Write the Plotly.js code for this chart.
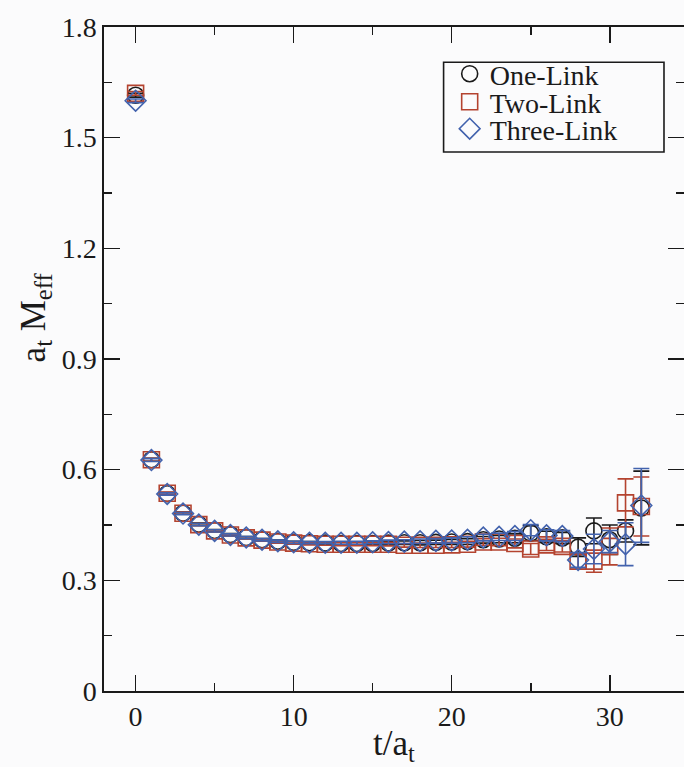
<!DOCTYPE html>
<html>
<head>
<meta charset="utf-8">
<script src="https://cdn.plot.ly/plotly-3.0.1.min.js"></script>
<style>html,body{margin:0;padding:0;background:#fbfbfc;}#chart{width:684px;height:767px;}</style>
</head>
<body>
<div id="chart"></div>
<script>
const t = [0,1,2,3,4,5,6,7,8,9,10,11,12,13,14,15,16,17,18,19,20,21,22,23,24,25,26,27,28,29,30,31,32];

const oneLink = [1.615,0.627,0.535,0.482,0.452,0.435,0.424,0.416,0.410,0.406,0.403,0.402,0.401,0.400,0.400,0.400,0.401,0.402,0.402,0.403,0.404,0.405,0.410,0.412,0.414,0.428,0.418,0.415,0.390,0.434,0.410,0.434,0.496];
const oneLinkErr = [0.005,0.004,0.003,0.003,0.003,0.003,0.003,0.003,0.003,0.003,0.003,0.003,0.003,0.004,0.004,0.004,0.005,0.005,0.006,0.006,0.007,0.008,0.009,0.010,0.012,0.020,0.015,0.015,0.025,0.035,0.040,0.030,0.100];

const twoLink = [1.620,0.627,0.536,0.482,0.451,0.434,0.423,0.415,0.409,0.404,0.401,0.399,0.398,0.398,0.398,0.398,0.398,0.395,0.395,0.395,0.396,0.398,0.404,0.404,0.400,0.385,0.396,0.392,0.352,0.352,0.392,0.510,0.500];
const twoLinkErr = [0.005,0.004,0.003,0.003,0.003,0.003,0.003,0.003,0.003,0.003,0.003,0.003,0.003,0.004,0.004,0.004,0.005,0.005,0.006,0.006,0.007,0.008,0.009,0.010,0.012,0.015,0.015,0.015,0.018,0.030,0.050,0.065,0.080];

const threeLink = [1.600,0.626,0.534,0.481,0.451,0.434,0.423,0.416,0.410,0.406,0.403,0.402,0.402,0.402,0.402,0.403,0.404,0.405,0.406,0.407,0.408,0.410,0.416,0.418,0.420,0.436,0.422,0.420,0.355,0.385,0.405,0.398,0.503];
const threeLinkErr = [0.005,0.004,0.003,0.003,0.003,0.003,0.003,0.003,0.003,0.003,0.003,0.003,0.003,0.004,0.004,0.004,0.005,0.005,0.006,0.006,0.007,0.008,0.009,0.010,0.012,0.015,0.015,0.015,0.020,0.040,0.030,0.058,0.100];

const names = ["One-Link","Two-Link","Three-Link"];
const colors = ["#1a1a1a","#b4432f","#4262ad"];
const symbols = ["circle-open","square-open","diamond-open"];
const legendIds = ["legend","legend2","legend3"];

const series = [[oneLink, oneLinkErr],[twoLink, twoLinkErr],[threeLink, threeLinkErr]];
const traces = series.map((s,i)=>({
  x: t, y: s[0], type: 'scatter', mode: 'markers', name: names[i], legend: legendIds[i],
  marker: {symbol: symbols[i], size: 16, color: colors[i], line: {width: 1.6, color: colors[i]}},
  error_y: {type: 'data', array: s[1], visible: true, color: colors[i], thickness: 1.6, width: 8}
}));

const font = {family: '"Liberation Serif", "Times New Roman", serif', color: '#1a1a1a'};
const legendBase = (yc) => ({
  x: 0.596, y: yc, xanchor: 'left', yanchor: 'middle',
  bgcolor: 'rgba(0,0,0,0)', borderwidth: 0,
  font: Object.assign({size: 28}, font), itemwidth: 30
});

const layout = {
  width: 684, height: 767,
  margin: {l: 104, r: 0, t: 27, b: 76},
  paper_bgcolor: '#fbfbfc', plot_bgcolor: '#fbfbfc',
  font: Object.assign({size: 28}, font),
  showlegend: true,
  legend: legendBase(0.9292),
  legend2: legendBase(0.8870),
  legend3: legendBase(0.8464),
  shapes: [{
    type: 'rect', xref: 'paper', yref: 'paper',
    x0: 0.5855, x1: 0.9655, y0: 0.8117, y1: 0.947,
    line: {color: '#1a1a1a', width: 1.6}, fillcolor: 'rgba(0,0,0,0)', layer: 'above'
  }],
  annotations: [{
    text: 'a<sub>t</sub> M<sub>eff</sub>', textangle: -90, showarrow: false,
    xref: 'paper', yref: 'paper', x: -0.118, y: 0.562, xanchor: 'center', yanchor: 'middle',
    font: Object.assign({size: 35}, font)
  }],
  xaxis: {
    range: [-2, 34.7], dtick: 10, tick0: 0,
    ticks: 'inside', ticklen: 16, tickwidth: 1.6, tickcolor: '#1a1a1a',
    showline: true, linecolor: '#1a1a1a', linewidth: 1.6, mirror: 'allticks',
    showgrid: false, zeroline: false,
    minor: {dtick: 5, ticks: 'inside', ticklen: 8, tickwidth: 1.6, tickcolor: '#1a1a1a', showgrid: false},
    tickfont: Object.assign({size: 28}, font),
    title: {text: 't/a<sub>t</sub>', font: Object.assign({size: 35}, font), standoff: 0}
  },
  yaxis: {
    range: [0, 1.8], dtick: 0.3, tick0: 0,
    ticks: 'inside', ticklen: 16, tickwidth: 1.6, tickcolor: '#1a1a1a',
    showline: true, linecolor: '#1a1a1a', linewidth: 1.6, mirror: 'allticks',
    showgrid: false, zeroline: false,
    minor: {dtick: 0.15, ticks: 'inside', ticklen: 8, tickwidth: 1.6, tickcolor: '#1a1a1a', showgrid: false},
    tickfont: Object.assign({size: 28}, font)
  }
};

Plotly.newPlot('chart', traces, layout, {displayModeBar: false, staticPlot: true});
</script>
</body>
</html>
